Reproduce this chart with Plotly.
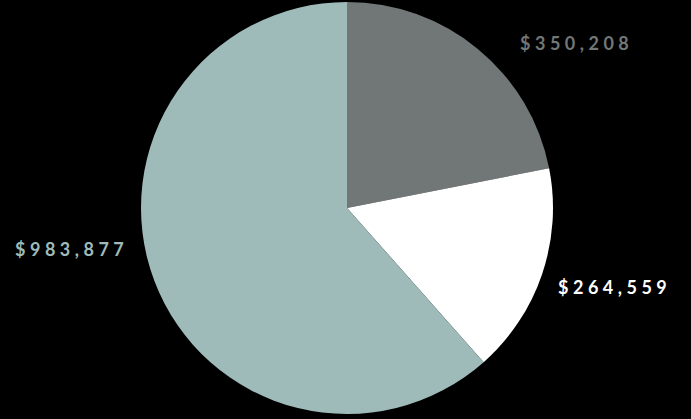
import plotly.graph_objects as go

W, H = 691, 419
labels = ["Gray", "White", "Teal"]
values = [350208, 264559, 983877]
colors = ["#717777", "#ffffff", "#9ebbba"]
label_text = ["$350,208", "$264,559", "$983,877"]
label_pos = [(574, 43), (612, 287), (69, 249)]  # pixel centers

SP = "\u2009\u2009"

def spaced(s):
    return SP.join(list(s))

fig = go.Figure(go.Pie(
    labels=labels, values=values, sort=False, direction="clockwise", rotation=0,
    marker=dict(colors=colors, line=dict(width=0)),
    textinfo="none", hoverinfo="label+value", showlegend=False,
    domain=dict(x=[141 / W, 553 / W], y=[1 - 414 / H, 1 - 2 / H]),
))

for t, (px, py), c in zip(label_text, label_pos, colors):
    fig.add_annotation(
        x=px / W, y=1 - py / H, xref="paper", yref="paper",
        text=spaced(t), showarrow=False, xanchor="center", yanchor="middle",
        font=dict(family="Lato", size=18, color=c, weight="bold"),
    )

fig.update_layout(
    width=W, height=H, margin=dict(l=0, r=0, t=0, b=0),
    paper_bgcolor="black", plot_bgcolor="black",
)
fig.write_html("out.html", config={"displayModeBar": False},
               post_script="document.body.style.margin='0';document.body.style.background='black';")
